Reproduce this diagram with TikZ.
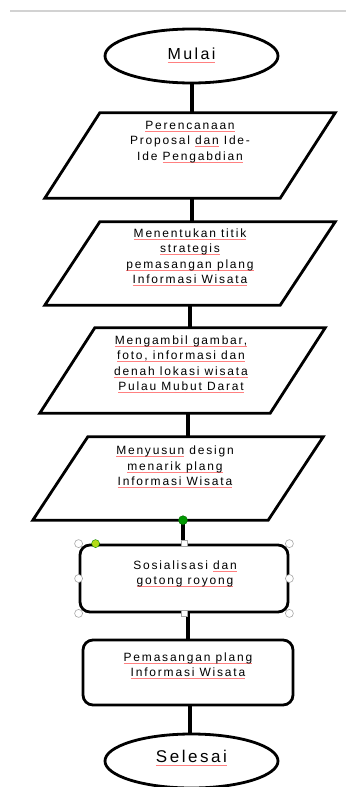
\documentclass[tikz,border=0pt]{standalone}
\usepackage{fontspec}
\setmainfont{Liberation Sans}[LetterSpace=15]
\usetikzlibrary{shapes.geometric,calc}
\newcommand\rw[1]{\setbox0\hbox{#1}\leavevmode\rlap{\textcolor{red!50}{\rule[-0.3ex]{\wd0}{0.5pt}}}\box0\relax}
\begin{document}
\begin{tikzpicture}[x=1pt,y=-1pt,
  txt/.style={font=\fontsize{12}{15.5}\selectfont, align=center, inner sep=0pt},
  term/.style={ellipse, draw, line width=2.8pt, minimum width=173pt, minimum height=54pt, inner sep=0pt},
  para/.style={rectangle, minimum width=290pt, inner sep=0pt},
  pline/.style={line width=2.8pt, line join=miter},
  rbox/.style={rectangle, rounded corners=10pt, draw, line width=2.8pt, inner sep=0pt},
  conn/.style={line width=4pt},
  handle/.style={circle, draw=gray!70, fill=white, line width=0.6pt, minimum size=8pt, inner sep=0pt},
  sqhandle/.style={rectangle, draw=gray!70, fill=white, line width=0.6pt, minimum size=6pt, inner sep=0pt},
]
\useasboundingbox (0,0) rectangle (346,787);
\draw[gray!35, line width=2pt] (10,11) -- (346,11);

% Start
\node[term] (m) at (191.5,56) {};
\node[txt, font=\fontsize{16}{18}\selectfont] (mt) at (191.5,55) {\rw{Mulai}};

% Parallelogram 1
\node[para, minimum height=85pt] (p1) at (190,155.5) {};
\draw[pline] ([xshift=55pt]p1.north west) -- (p1.north east) -- ([xshift=-55pt]p1.south east) -- (p1.south west) -- cycle;
\node[txt] (t1) at (190,142) {\rw{Perencanaan}\\Proposal \rw{dan} Ide-\\Ide \rw{Pengabdian}};

% Parallelogram 2
\node[para, minimum height=83pt] (p2) at (190,263.5) {};
\draw[pline] ([xshift=55pt]p2.north west) -- (p2.north east) -- ([xshift=-55pt]p2.south east) -- (p2.south west) -- cycle;
\node[txt] (t2) at (190,257) {\rw{Menentukan titik}\\\rw{strategis}\\\rw{pemasangan plang}\\\rw{Informasi Wisata}};

% Parallelogram 3
\node[para, minimum width=285pt, minimum height=85pt] (p3) at (182.5,370.5) {};
\draw[pline] ([xshift=55pt]p3.north west) -- (p3.north east) -- ([xshift=-55pt]p3.south east) -- (p3.south west) -- cycle;
\node[txt] (t3) at (181,364) {\rw{Mengambil gambar,}\\\rw{foto, informasi dan}\\\rw{denah lokasi wisata}\\\rw{Pulau Mubut Darat}};

% Parallelogram 4
\node[para, minimum height=83pt] (p4) at (178,478.5) {};
\draw[pline] ([xshift=55pt]p4.north west) -- (p4.north east) -- ([xshift=-55pt]p4.south east) -- (p4.south west) -- cycle;
\node[txt] (t4) at (175,467) {\rw{Menyusun} design\\\rw{menarik plang}\\\rw{Informasi Wisata}};

% Box 5 (selected)
\node[rbox, minimum width=208pt, minimum height=67pt] (s) at (184,578.5) {};
\node[txt] (t5) at (185,574) {Sosialisasi \rw{dan}\\\rw{gotong royong}};

% Box 6
\node[rbox, minimum width=210pt, minimum height=65pt] (b6) at (188,672.5) {};
\node[txt] (t6) at (188,665.5) {\rw{Pemasangan plang}\\\rw{Informasi Wisata}};

% End
\node[term] (e) at (191.5,761) {};
\node[txt, font=\fontsize{17}{19}\selectfont] (et) at (191.5,758) {\rw{Selesai}};

% Connectors
\draw[conn] (m.south) -- (m.south |- p1.north);
\draw[conn] ([xshift=2pt]p1.south) -- ([xshift=2pt]p1.south |- p2.north);
\draw[conn] (p2.south) -- (p2.south |- p3.north);
\draw[conn] ([xshift=5.5pt]p3.south) -- ([xshift=5.5pt]p3.south |- p4.north);
\coordinate (c5) at ([xshift=5pt]p4.south);
\draw[conn] (c5) -- (c5 |- s.north);
\draw[conn] ([xshift=4pt]s.south) -- ([xshift=4pt]s.south |- b6.north);
\draw[conn] ([xshift=2pt]b6.south) -- ([xshift=2pt]b6.south |- e.north);

% Selection handles
\node[handle] (h1) at (s.north west) {};
\node[sqhandle] (h2) at (s.north) {};
\node[handle] (h3) at (s.north east) {};
\node[handle] (h4) at (s.west) {};
\node[handle] (h5) at (s.east) {};
\node[handle] (h6) at (s.south west) {};
\node[sqhandle] (h7) at (s.south) {};
\node[handle] (h8) at (s.south east) {};
\node[circle, fill=yellow!70!green, draw=green!50!black, line width=0.4pt, minimum size=8pt, inner sep=0pt] (g1) at ([xshift=17pt]s.north west) {};
\node[circle, fill=green!60!black, draw=green!40!black, line width=0.4pt, minimum size=9pt, inner sep=0pt] (g2) at (c5) {};
\end{tikzpicture}
\end{document}
